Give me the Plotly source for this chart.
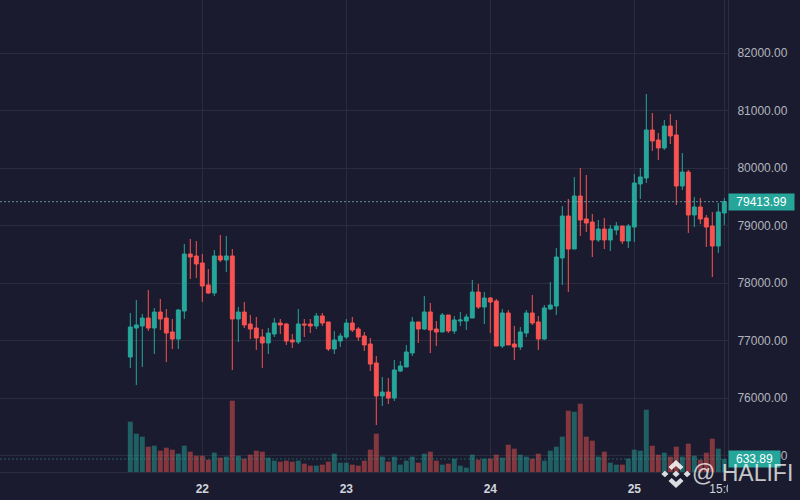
import plotly.graph_objects as go

# Hourly candles, index 0 is 12:00 on the 21st
opens = [76713, 77217, 77252, 77391, 77217, 77495, 77391, 77148, 77026, 77513,
         78504, 78470, 78348, 77965, 77826, 78470, 78400, 78470, 77374, 77495,
         77287, 77217, 77061, 76957, 77113, 77304, 77287, 77009, 76974, 77287,
         77287, 77252, 77426, 77322, 76852, 76991, 77061, 77304, 77200, 77078,
         76939, 76609, 76035, 76104, 76000, 76469, 76539, 76782, 77322, 77200,
         77496, 77200, 77148, 77443, 77165, 77339, 77339, 77391, 77843, 77582,
         77739, 77687, 76904, 77478, 76939, 76887, 77130, 77478, 77322, 77026,
         77548, 77600, 78435, 79165, 78591, 79513, 79113, 79061, 78748, 78939,
         78748, 78921, 78991, 78730, 78974, 79722, 79826, 80661, 80487, 80348,
         80730, 80574, 79687, 79930, 79183, 79322, 79130, 78991, 78643, 79217]
highs = [77479, 77704, 77461, 77878, 77565, 77722, 77548, 77374, 77548, 78678,
         78765, 78730, 78504, 78243, 78574, 78835, 78817, 78591, 77583, 77670,
         77444, 77409, 77200, 77217, 77391, 77374, 77304, 77113, 77548, 77374,
         77374, 77478, 77478, 77322, 77165, 77130, 77374, 77409, 77235, 77148,
         77043, 76730, 76365, 76348, 76661, 76643, 76922, 77409, 77322, 77774,
         77652, 77339, 77478, 77443, 77426, 77496, 77461, 78052, 77982, 77843,
         77756, 77722, 77548, 77530, 77252, 77235, 77530, 77791, 77426, 77617,
         78017, 78608, 79339, 79461, 79843, 80000, 79878, 79200, 79096, 79130,
         79009, 79061, 78991, 79026, 79896, 80000, 81287, 80957, 80609, 80835,
         80939, 80835, 80261, 79965, 79496, 79478, 79183, 79235, 79391, 79478]
lows = [76522, 76226, 76539, 77165, 76765, 77182, 76626, 76852, 76852, 77374,
        78070, 78087, 77670, 77809, 77774, 78365, 78191, 76487, 76974, 77217,
        77026, 76835, 76522, 76765, 77061, 77113, 76922, 76870, 76939, 77061,
        77130, 77200, 77252, 76817, 76765, 76887, 77026, 77148, 76991, 76817,
        76469, 75530, 75861, 75895, 75948, 76452, 76539, 76730, 76957, 77183,
        76782, 76904, 77148, 77130, 77113, 77252, 77183, 77391, 77548, 77287,
        77130, 76904, 76869, 76922, 76661, 76835, 77061, 77269, 76835, 77008,
        77530, 77443, 77965, 77843, 78591, 78817, 78887, 78452, 78713, 78591,
        78556, 78835, 78678, 78609, 78713, 79461, 79739, 80296, 80139, 80313,
        80417, 79356, 79617, 78870, 78974, 79026, 78626, 78104, 78522, 79009]
closes = [77235, 77270, 77391, 77217, 77495, 77374, 77130, 77026, 77530, 78504,
          78452, 78330, 77948, 77826, 78470, 78400, 78470, 77374, 77495, 77270,
          77200, 77043, 76957, 77130, 77304, 77270, 76991, 76974, 77287, 77270,
          77252, 77426, 77304, 76852, 77009, 77078, 77304, 77182, 77061, 76922,
          76591, 76035, 76104, 76000, 76487, 76556, 76800, 77322, 77200, 77496,
          77183, 77148, 77443, 77165, 77357, 77357, 77409, 77843, 77582, 77739,
          77669, 76904, 77478, 76922, 76887, 77148, 77478, 77304, 77026, 77565,
          77617, 78452, 79165, 78591, 79513, 79096, 79043, 78748, 78939, 78748,
          78939, 78991, 78730, 78991, 79739, 79843, 80661, 80470, 80348, 80730,
          80557, 79687, 79930, 79183, 79322, 79113, 78974, 78643, 79235, 79413.99]
volumes = [2454, 1869, 1723, 1235, 1284, 1040, 1186, 1089, 894, 1284,
           991, 796, 796, 601, 943, 699, 748, 3478, 796, 650,
           845, 1040, 991, 699, 553, 504, 553, 504, 553, 406,
           309, 309, 358, 504, 894, 455, 455, 358, 309, 553,
           1089, 1869, 748, 504, 748, 358, 553, 748, 455, 894,
           991, 553, 358, 406, 650, 309, 211, 845, 601, 650,
           650, 845, 699, 1333, 1138, 845, 748, 650, 894, 553,
           1040, 1235, 1723, 2990, 2941, 3331, 1723, 1528, 748, 991,
           455, 358, 358, 650, 1089, 1040, 3039, 1284, 845, 943,
           748, 1235, 748, 1381, 796, 601, 943, 1625, 1138, 633.89]

hours = list(range(len(closes)))
tick_hours = [12, 36, 60, 84, 99]
tick_labels = ["<b>22</b>", "<b>23</b>", "<b>24</b>", "<b>25</b>", "15:00"]
price_ticks = [75000, 76000, 77000, 78000, 79000, 80000, 81000, 82000]

bg = "#1a1b2e"
grid = "#2b2c3e"
up = "#26a69a"
down = "#f85350"
label_color = "#b2b5be"
FONT = "Liberation Sans"

fig = go.Figure()

fig.add_trace(go.Candlestick(
    x=hours, open=opens, high=highs, low=lows, close=closes,
    increasing=dict(line=dict(color=up, width=1), fillcolor=up),
    decreasing=dict(line=dict(color=down, width=1), fillcolor=down),
    whiskerwidth=0,
    showlegend=False,
))

# Volume sits on its own hidden axis in the same plot area
vol_colors = ["rgba(38,166,154,0.5)" if c >= o else "rgba(239,83,80,0.5)"
              for o, c in zip(opens, closes)]
fig.add_trace(go.Bar(
    x=hours, y=volumes, yaxis="y2", width=0.83,
    marker=dict(color=vol_colors, line=dict(width=0)),
    showlegend=False,
))

fig.update_layout(
    width=800,
    height=500,
    margin=dict(l=0, r=72, t=0, b=28),
    paper_bgcolor=bg,
    plot_bgcolor=bg,
    font=dict(family=FONT, size=12, color=label_color),
    boxgap=0.35,
    boxgroupgap=0,
    xaxis=dict(
        range=[-21.717, 99.617],
        rangeslider=dict(visible=False),
        tickmode="array",
        tickvals=tick_hours,
        ticktext=tick_labels,
        tickangle=0,
        showgrid=True,
        gridcolor=grid,
        gridwidth=1,
        zeroline=False,
        showline=True,
        linecolor=grid,
        linewidth=1,
        ticks="",
        ticklabelstandoff=6,
        tickfont=dict(size=12, color="#d1d4dc"),
    ),
    yaxis=dict(
        range=[74713, 82921.7],
        side="right",
        tickmode="array",
        tickvals=price_ticks,
        tickformat=".2f",
        showgrid=True,
        gridcolor=grid,
        gridwidth=1,
        zeroline=False,
        showline=True,
        linecolor=grid,
        linewidth=1,
        ticks="",
        ticklabelstandoff=6,
    ),
    yaxis2=dict(
        range=[0, 23015],
        overlaying="y",
        side="right",
        visible=False,
    ),
)

# Last price and last volume lines
fig.add_shape(type="line", xref="paper", x0=0, x1=1, yref="y", y0=closes[-1], y1=closes[-1],
              line=dict(color="rgba(120,190,185,0.75)", width=1, dash="2px,2px"))
fig.add_shape(type="line", xref="paper", x0=0, x1=1, yref="y2", y0=volumes[-1], y1=volumes[-1],
              line=dict(color="rgba(38,166,154,0.5)", width=1, dash="2px,2px"))

# Mask so the 15:00 label is cut off at the price scale
fig.add_shape(type="rect", xref="paper", yref="paper", x0=1, x1=1.1, y0=-0.06, y1=-0.002,
              fillcolor=bg, line=dict(width=0), layer="above")

fig.add_annotation(xref="paper", x=1, xanchor="left", yref="y", y=closes[-1], yanchor="middle",
                   text=f"{closes[-1]:.2f}", showarrow=False, width=65, height=16, bgcolor=up,
                   borderpad=0, font=dict(family=FONT, size=12, color="#ffffff"))
fig.add_annotation(xref="paper", x=1, xanchor="left", yref="y2", y=volumes[-1], yanchor="middle",
                   text=f"{volumes[-1]:.2f}", showarrow=False, width=51, height=16, bgcolor=up,
                   borderpad=0, font=dict(family=FONT, size=12, color="#ffffff"))


def logo_path(points, cx=676, cy=474, rx=15, ry=14, plot_w=728, plot_h=472):
    pts = [((cx + px * rx) / plot_w, 1 - (cy + py * ry) / plot_h) for px, py in points]
    return "M" + " L".join(f"{a:.5f},{b:.5f}" for a, b in pts) + " Z"


# Watermark logo
chevron = [(0, -1), (0.5, -0.5), (0.29, -0.29), (0, -0.58), (-0.29, -0.29), (-0.5, -0.5)]
logo_parts = [
    chevron,
    [(x, -y) for x, y in chevron],
    [(0, -0.24), (0.24, 0), (0, 0.24), (-0.24, 0)],
    [(-0.74, -0.24), (-0.5, 0), (-0.74, 0.24), (-0.98, 0)],
    [(0.74, -0.24), (0.98, 0), (0.74, 0.24), (0.5, 0)],
]
for part in logo_parts:
    fig.add_shape(type="path", xref="paper", yref="paper", path=logo_path(part),
                  fillcolor="rgba(255,255,255,0.85)", line=dict(width=0), layer="above")

fig.add_annotation(xref="paper", yref="paper", x=690 / 728, y=1 - 473 / 472, xanchor="left", yanchor="middle",
                   text="@ HALIFI", showarrow=False,
                   font=dict(family=FONT, size=23, color="rgba(255,255,255,0.75)"))

# Page body has a default margin that would push the chart off the window edge
fig.write_html("out.html", config={"displayModeBar": False},
               post_script="document.body.style.margin='0';")
